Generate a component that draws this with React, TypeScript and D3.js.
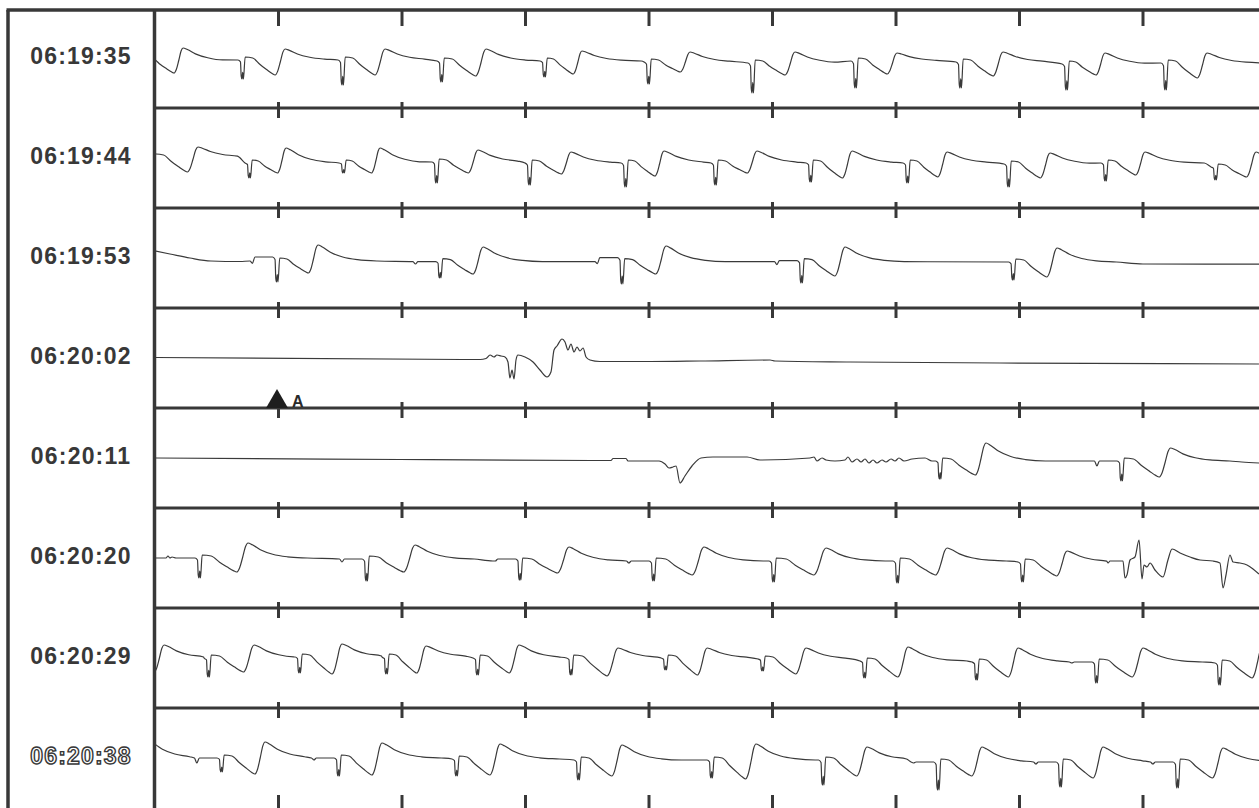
import React, { useEffect, useRef } from 'react';
import * as d3 from 'd3';

// one strip = 9 s, amplitude in mV
type Beat = [number, number, number, number, number, number, number?, number?];
// [spike s, peak s, base mV, spike mV, dip mV, peak mV, notch depth mV, notch raise mV]

const stripLabels = ['06:19:35', '06:19:44', '06:19:53', '06:20:02', '06:20:11', '06:20:20', '06:20:29', '06:20:38'];
const secondTicks = [1, 2, 3, 4, 5, 6, 7, 8];
const markerLabel = 'A';
const markerStrip = 3;
const markerTime = 1.0;

// shape of one paced complex, read off the clean beats of strip 3
// [anchor, offset, level, share]  anchor s = ms from spike, u = share of spike->peak, p = ms after peak
const beatShape: [string, number, string, number][] = [
  ['s', -32, 'b', 0],
  ['s', -12, 's', 0.1],
  ['s', -6, 's', 0.85],
  ['s', 0, 's', 1],
  ['s', 6, 's', 0.65],
  ['s', 12, 's', 1],
  ['s', 26, 'b', 0.15],
  ['u', 0.25, 'b', 0.1],
  ['u', 0.42, 'd', 0.3],
  ['u', 0.58, 'd', 0.65],
  ['u', 0.7, 'd', 0.9],
  ['u', 0.77, 'd', 1],
  ['u', 0.83, 'x', 0.15],
  ['u', 0.89, 'x', 0.5],
  ['u', 0.95, 'x', 0.88],
  ['u', 1, 'x', 1],
  ['p', 35, 'p', 0.88],
  ['p', 100, 'p', 0.55],
  ['p', 200, 'p', 0.25],
  ['p', 320, 'p', 0.08],
  ['p', 480, 'p', 0],
];

const beats1: Beat[] = [
  [-0.089, 0.227, -0.15, -1.1, -0.75, 0.5],
  [0.704, 1.053, -0.1, -1.05, -0.85, 0.45],
  [1.514, 1.862, -0.1, -1.35, -0.85, 0.45],
  [2.316, 2.68, -0.15, -1.2, -0.9, 0.45],
  [3.15, 3.457, -0.15, -0.95, -0.8, 0.35],
  [3.992, 4.332, -0.2, -1.3, -0.7, 0.3],
  [4.834, 5.182, -0.25, -1.75, -0.85, 0.3],
  [5.668, 6.008, -0.15, -1.5, -0.8, 0.25],
  [6.518, 6.866, -0.2, -1.5, -0.9, 0.3],
  [7.377, 7.692, -0.3, -1.6, -0.85, 0.25],
  [8.178, 8.518, -0.25, -1.6, -1.0, 0.25],
];
const beats2: Beat[] = [
  [-0.024, 0.348, 0.05, -0.35, -0.7, 0.55],
  [0.761, 1.061, -0.25, -1.0, -0.75, 0.5],
  [1.522, 1.822, -0.25, -0.75, -0.75, 0.5],
  [2.275, 2.615, -0.2, -1.25, -0.75, 0.4],
  [3.028, 3.368, -0.25, -1.35, -0.8, 0.3],
  [3.806, 4.121, -0.25, -1.45, -0.9, 0.35],
  [4.534, 4.874, -0.25, -1.35, -0.75, 0.35],
  [5.304, 5.644, -0.25, -1.2, -1.0, 0.35],
  [6.089, 6.413, -0.25, -1.25, -0.95, 0.3],
  [6.907, 7.247, -0.3, -1.45, -1.0, 0.25],
  [7.692, 8.016, -0.25, -1.15, -0.85, 0.3],
  [8.583, 8.915, -0.45, -1.1, -0.95, 0.3],
];
const beats3: Beat[] = [
  [0.984, 1.32, -0.15, -1.2, -0.75, 0.65, 0.12, 0.2],
  [2.304, 2.656, -0.18, -1.0, -0.8, 0.55, 0.12, 0],
  [3.777, 4.138, -0.18, -1.3, -0.8, 0.6, 0.1, 0.2],
  [5.231, 5.587, -0.18, -1.25, -0.9, 0.55, 0.15, 0.05],
  [6.944, 7.304, -0.2, -1.1, -0.95, 0.5],
];
const raw3: [number, number][] = [
  [0, 0.35], [0.121, 0.2], [0.283, 0], [0.453, -0.15], [0.688, -0.175],
  [8.0, -0.3], [8.94, -0.31],
];
const raw4: [number, number][] = [
  [0, 0.025], [2.632, -0.075], [2.68, -0.025], [2.713, 0.15], [2.745, 0.05], [2.769, 0.15],
  [2.802, 0.1], [2.834, 0.05], [2.858, -0.2], [2.874, -1.0], [2.891, -0.6], [2.907, -1.05],
  [2.923, -0.1], [2.939, 0.15], [2.996, 0.05], [3.061, -0.2], [3.117, -0.6], [3.174, -0.95],
  [3.206, -0.7], [3.231, 0.4], [3.255, 0.6], [3.296, 0.95], [3.32, 0.8], [3.344, 0.4],
  [3.368, 0.7], [3.393, 0.3], [3.417, 0.55], [3.441, 0.35], [3.466, 0.5], [3.49, 0.05],
  [3.522, -0.1], [3.603, -0.175], [4.008, -0.175], [4.413, -0.15], [4.98, -0.1], [5.02, -0.15],
  [5.628, -0.2], [6.842, -0.25], [8.939, -0.3],
];
const beats5: Beat[] = [
  [6.352, 6.729, -0.15, -1.05, -0.85, 0.75],
  [7.822, 8.223, -0.15, -1.15, -0.95, 0.5, 0.25, 0],
];
const raw5: [number, number][] = [
  [0, 0], [1.984, -0.075], [3.692, -0.125], [3.709, -0.025], [3.814, -0.025], [3.83, -0.15],
  [4.081, -0.15], [4.13, -0.3], [4.162, -0.5], [4.194, -0.45], [4.219, -0.4], [4.251, -1.25],
  [4.291, -0.9], [4.348, -0.4], [4.421, 0], [4.518, 0.05], [4.794, 0.05], [4.899, -0.1],
  [5.304, 0], [5.336, 0.05], [5.36, -0.15], [5.401, 0], [5.433, -0.1], [5.506, -0.15],
  [5.587, -0.1], [5.611, 0.05], [5.644, -0.2], [5.684, -0.05], [5.717, -0.2], [5.749, -0.05],
  [5.781, -0.25], [5.814, -0.1], [5.846, -0.25], [5.887, -0.1], [5.919, -0.2], [5.96, -0.05],
  [5.992, -0.15], [6.024, 0], [6.065, -0.15], [6.13, -0.05], [6.235, 0], [6.291, -0.15],
  [8.8, -0.2], [8.94, -0.25],
];
const beats6: Beat[] = [
  [0.356, 0.753, 0, -1.0, -0.7, 0.75],
  [1.709, 2.105, -0.05, -1.15, -0.7, 0.65, 0.15, 0],
  [2.951, 3.352, -0.15, -1.1, -0.75, 0.55, 0, 0.1],
  [4.032, 4.445, -0.15, -1.15, -0.85, 0.55, 0.1, 0],
  [5.004, 5.433, -0.15, -1.2, -0.85, 0.5],
  [6.008, 6.413, -0.15, -1.25, -0.85, 0.5],
  [7.02, 7.385, -0.2, -1.2, -0.9, 0.35],
];
const raw6: [number, number][] = [
  [0, 0], [0.089, 0], [0.105, 0.1], [0.121, 0], [0.138, 0.05], [0.17, 0],
  [7.717, -0.25], [7.733, -0.15], [7.838, -0.15], [7.854, -1.0], [7.87, -0.85], [7.895, -0.1],
  [7.935, 0.05], [7.968, 0.9], [7.992, -1.05], [8.008, -0.35], [8.032, -0.45], [8.057, -0.25],
  [8.097, -0.6], [8.162, -0.95], [8.202, -0.1], [8.235, 0.45], [8.3, 0.25], [8.381, 0.05],
  [8.462, -0.1], [8.567, -0.15], [8.623, -0.25], [8.648, -1.5], [8.672, -0.85], [8.704, 0.15],
  [8.729, -0.2], [8.785, -0.25], [8.842, -0.35], [8.891, -0.55], [8.939, -0.8],
];
const beats7: Beat[] = [
  [-0.275, 0.073, 0, -1.0, -0.7, 0.65],
  [0.429, 0.802, 0, -0.95, -0.7, 0.65],
  [1.166, 1.514, 0.05, -0.75, -0.8, 0.7],
  [1.87, 2.194, 0.05, -0.8, -0.75, 0.6],
  [2.607, 2.947, 0, -0.85, -0.75, 0.65],
  [3.364, 3.749, 0, -0.85, -0.9, 0.5],
  [4.13, 4.47, 0, -0.6, -0.85, 0.5],
  [4.915, 5.271, -0.05, -0.65, -0.8, 0.5],
  [5.741, 6.097, -0.15, -1.0, -0.95, 0.55],
  [6.648, 6.988, -0.2, -1.1, -0.95, 0.5],
  [7.619, 8.0, -0.2, -1.25, -0.95, 0.5, 0.05, 0],
  [8.615, 8.964, -0.25, -1.35, -1.0, 0.5],
];
const beats8: Beat[] = [
  [-0.389, -0.04, 0, -1.0, -0.8, 0.8],
  [0.534, 0.891, 0, -0.7, -0.8, 0.8, 0.25, 0],
  [1.482, 1.838, 0, -0.9, -0.85, 0.75, 0.1, 0],
  [2.437, 2.794, -0.05, -0.9, -0.85, 0.7],
  [3.425, 3.781, -0.1, -1.1, -0.9, 0.65],
  [4.502, 4.866, -0.1, -1.0, -1.05, 0.7],
  [5.405, 5.765, -0.1, -1.35, -0.9, 0.55],
  [6.337, 6.696, -0.2, -1.6, -0.9, 0.55, 0.05, 0],
  [7.328, 7.676, -0.2, -1.45, -1.0, 0.55, 0.1, 0],
  [8.275, 8.648, -0.2, -1.5, -1.0, 0.5, 0.1, 0],
];

const strips = [
  { beats: beats1, raw: [] as [number, number][] },
  { beats: beats2, raw: [] as [number, number][] },
  { beats: beats3, raw: raw3 },
  { beats: [] as Beat[], raw: raw4 },
  { beats: beats5, raw: raw5 },
  { beats: beats6, raw: raw6 },
  { beats: beats7, raw: [] as [number, number][] },
  { beats: beats8, raw: [] as [number, number][] },
];

function complexPoints(b: Beat): [number, number][] {
  const [ts, tp, base, sp, dip, pk, notch = 0, raise = 0] = b;
  const pts: [number, number][] = [];
  if (notch || raise) {
    pts.push([ts - 0.215, base], [ts - 0.195, base - notch], [ts - 0.175, base + raise]);
  }
  beatShape.forEach(([anchor, off, level, k]) => {
    const t = anchor === 's' ? ts + off / 1000 : anchor === 'u' ? ts + off * (tp - ts) : tp + off / 1000;
    const pre = anchor === 's' && off < 0 ? raise : 0;
    let v = base;
    if (level === 'b') v = base + pre + k;
    else if (level === 's') v = base + pre + k * (sp - base - pre);
    else if (level === 'd') v = base + k * (dip - base);
    else if (level === 'x') v = dip + k * (pk - dip);
    else v = base + k * (pk - base);
    pts.push([t, v]);
  });
  return pts;
}

function tracePoints(strip: { beats: Beat[]; raw: [number, number][] }) {
  const groups = strip.beats.map(complexPoints);
  const out: [number, number][] = [...strip.raw];
  groups.forEach((pts, i) => {
    const ts = strip.beats[i][0];
    const nextBeat = i < groups.length - 1 ? groups[i + 1][0][0] : Infinity;
    const nextRaw = strip.raw.find(d => d[0] > ts);
    const limit = Math.min(nextBeat, nextRaw ? nextRaw[0] : Infinity);
    pts.filter(d => d[0] < limit).forEach(d => out.push(d));
  });
  out.sort((a, b) => a[0] - b[0]);
  return out.filter((d, i) => i === 0 || d[0] > out[i - 1][0]);
}

const App = () => {
  const svgRef = useRef<SVGSVGElement>(null);

  useEffect(() => {
    const svg = d3.select(svgRef.current);
    svg.selectAll('*').remove();

    const W = 1259, H = 808;
    const outerLeft = 8, split = 154.5, topY = 10;
    const ink = '#383838';

    const x = d3.scaleLinear().domain([0, 9]).range([155, 1266.5]);
    const rowY = d3.scaleBand<number>().domain(d3.range(strips.length)).range([8, 808]);
    const bh = rowY.bandwidth();

    svg.append('defs').append('clipPath').attr('id', 'strip-clip')
      .append('rect').attr('x', split + 1.5).attr('y', 0).attr('width', W - split).attr('height', H);

    // traces and time labels
    strips.forEach((strip, i) => {
      const y0 = rowY(i)!;
      const y = d3.scaleLinear().domain([-2.5, 2.5]).range([y0 + bh, y0]);
      const line = d3.line<[number, number]>()
        .x(d => x(d[0]))
        .y(d => y(d[1]))
        .curve(d3.curveMonotoneX);

      svg.append('path')
        .datum(tracePoints(strip))
        .attr('clip-path', 'url(#strip-clip)')
        .attr('fill', 'none')
        .attr('stroke', '#3a3a3a')
        .attr('stroke-width', 1.2)
        .attr('stroke-linejoin', 'round')
        .attr('d', line);

      const last = i === strips.length - 1;
      svg.append('text')
        .attr('x', 81)
        .attr('y', y0 + bh / 2 + 5.5)
        .attr('text-anchor', 'middle')
        .style('font-family', '"Liberation Sans", Arial, sans-serif')
        .style('font-weight', 'bold')
        .style('font-size', '23px')
        .style('letter-spacing', '1.2px')
        .attr('fill', last ? '#ffffff' : ink)
        .attr('stroke', last ? ink : 'none')
        .attr('stroke-width', last ? 1.4 : 0)
        .text(stripLabels[i]);
    });

    // frame
    svg.append('line').attr('x1', outerLeft - 1.5).attr('x2', W).attr('y1', topY).attr('y2', topY)
      .attr('stroke', ink).attr('stroke-width', 3.5);
    svg.append('line').attr('x1', outerLeft).attr('x2', outerLeft).attr('y1', topY).attr('y2', H)
      .attr('stroke', ink).attr('stroke-width', 3.5);
    svg.append('line').attr('x1', split).attr('x2', split).attr('y1', topY).attr('y2', H)
      .attr('stroke', ink).attr('stroke-width', 3.5);

    d3.range(1, strips.length).forEach(i => {
      svg.append('line').attr('x1', split).attr('x2', W).attr('y1', rowY(i)!).attr('y2', rowY(i)!)
        .attr('stroke', ink).attr('stroke-width', 3.2);
    });

    // second ticks
    const tickRows: [number, number][] = [[topY, topY + 16]];
    d3.range(1, strips.length).forEach(i => tickRows.push([rowY(i)! - 6, rowY(i)! + 10]));
    tickRows.push([H - 13, H]);
    tickRows.forEach(([a, b]) => {
      svg.append('g').selectAll('line').data(secondTicks).join('line')
        .attr('x1', d => x(d)).attr('x2', d => x(d))
        .attr('y1', a).attr('y2', b)
        .attr('stroke', ink).attr('stroke-width', 3);
    });

    // event marker
    const mx = x(markerTime) - 1.5;
    const my = rowY(markerStrip)! + bh;
    svg.append('path')
      .attr('d', `M${mx - 11},${my} L${mx},${my - 19} L${mx + 11},${my} Z`)
      .attr('fill', '#1e1e1e');
    svg.append('text')
      .attr('x', mx + 15)
      .attr('y', my - 1)
      .style('font-family', '"Liberation Sans", Arial, sans-serif')
      .style('font-weight', 'bold')
      .style('font-size', '16px')
      .attr('fill', '#2a2a2a')
      .text(markerLabel);
  }, []);

  return (
    <svg
      ref={svgRef}
      width={1259}
      height={808}
      style={{ position: 'absolute', left: 0, top: 0, background: '#fff' }}
    />
  );
};

export default App;
